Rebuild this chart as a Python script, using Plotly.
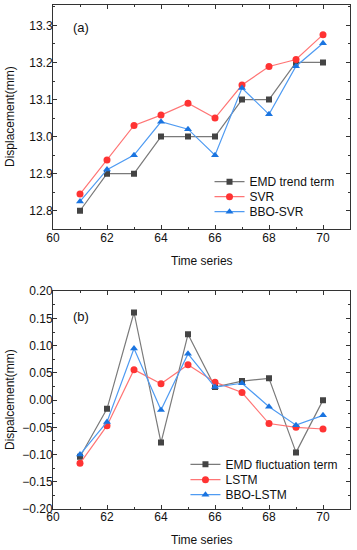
import plotly.graph_objects as go

x_vals = [61, 62, 63, 64, 65, 66, 67, 68, 69, 70]

emd_trend = [12.80, 12.90, 12.90, 13.00, 13.00, 13.00, 13.10, 13.10, 13.20, 13.20]
svr = [12.845, 12.937, 13.030, 13.058, 13.090, 13.050, 13.139, 13.189, 13.208, 13.275]
bbo_svr = [12.825, 12.911, 12.950, 13.040, 13.020, 12.950, 13.131, 13.060, 13.190, 13.252]

emd_fluct = [-0.104, -0.016, 0.161, -0.078, 0.121, 0.024, 0.035, 0.040, -0.096, 0.000]
lstm = [-0.116, -0.047, 0.056, 0.030, 0.065, 0.033, 0.014, -0.043, -0.050, -0.053]
bbo_lstm = [-0.100, -0.040, 0.095, -0.018, 0.085, 0.024, 0.031, -0.012, -0.046, -0.028]

x_ticks = [60, 62, 64, 66, 68, 70]
y_ticks_a = [12.8, 12.9, 13.0, 13.1, 13.2, 13.3]
y_ticks_b = [-0.20, -0.15, -0.10, -0.05, 0.00, 0.05, 0.10, 0.15, 0.20]

FONT = "Liberation Sans, Arial, sans-serif"
BLACK_M, BLACK_L = "#444444", "#7a7a7a"
RED_M, RED_L = "#ff3333", "#ff7575"
BLUE_M, BLUE_L = "#1a74e0", "#4f9bf2"

fig = go.Figure()

def add(y, name, mc, lc, sym, size, xa, ya, leg):
    fig.add_trace(go.Scatter(
        x=x_vals, y=y, name=name, mode="lines+markers",
        line=dict(color=lc, width=1.2),
        marker=dict(symbol=sym, size=size, color=mc),
        xaxis=xa, yaxis=ya, legend=leg))

add(emd_trend, "EMD trend term", BLACK_M, BLACK_L, "square", 6, "x", "y", "legend")
add(svr, "SVR", RED_M, RED_L, "circle", 7, "x", "y", "legend2")
add(bbo_svr, "BBO-SVR", BLUE_M, BLUE_L, "triangle-up", 7, "x", "y", "legend3")

add(emd_fluct, "EMD fluctuation term", BLACK_M, BLACK_L, "square", 6, "x2", "y2", "legend4")
add(lstm, "LSTM", RED_M, RED_L, "circle", 7, "x2", "y2", "legend5")
add(bbo_lstm, "BBO-LSTM", BLUE_M, BLUE_L, "triangle-up", 7, "x2", "y2", "legend6")

axis_common = dict(
    showline=True, linecolor="#333333", linewidth=1, mirror="ticks",
    ticks="inside", ticklen=4, tickcolor="#333333", tickwidth=1,
    showgrid=False, zeroline=False, automargin=False,
    tickfont=dict(family=FONT, size=12, color="#111111"),
)
xminor = dict(dtick=1, ticks="inside", ticklen=2, tickcolor="#333333", showgrid=False)

def leg(x, y):
    return dict(x=x, y=y, xanchor="left", yanchor="middle",
                bgcolor="rgba(0,0,0,0)", font=dict(size=12),
                itemwidth=30, borderwidth=0)

fig.update_layout(
    width=357, height=550,
    margin=dict(l=53, r=7, t=5, b=41),
    paper_bgcolor="white", plot_bgcolor="white",
    font=dict(family=FONT, size=12, color="#111111"),
    showlegend=True,
    xaxis=dict(domain=[0, 1], anchor="y", range=[60, 71], tickvals=x_ticks,
               minor=xminor, ticklabelstandoff=-3, **axis_common),
    yaxis=dict(domain=[0.555, 1.0], anchor="x", range=[12.75, 13.355],
               tickvals=y_ticks_a, tickformat=".1f", ticklabelstandoff=-3,
               minor=dict(dtick=0.05, tick0=12.75, ticks="inside", ticklen=2, tickcolor="#333333", showgrid=False),
               **axis_common),
    xaxis2=dict(domain=[0, 1], anchor="y2", range=[60, 71], tickvals=x_ticks,
                minor=xminor, ticklabelstandoff=-3, **axis_common),
    yaxis2=dict(domain=[0, 0.432], anchor="x2", range=[-0.2, 0.2],
                tickvals=y_ticks_b, tickformat=".2f", ticklabelstandoff=-3,
                minor=dict(dtick=0.025, tick0=0, ticks="inside", ticklen=2, tickcolor="#333333", showgrid=False),
                **axis_common),
    legend=leg(0.527, 0.6494),
    legend2=leg(0.527, 0.6196),
    legend3=leg(0.527, 0.5899),
    legend4=leg(0.446, 0.0887),
    legend5=leg(0.446, 0.0581),
    legend6=leg(0.446, 0.0284),
    annotations=[
        dict(text="(a)", x=0.06, y=0.955, xref="paper", yref="paper",
             xanchor="left", yanchor="middle", showarrow=False, font=dict(size=13)),
        dict(text="(b)", x=0.06, y=0.381, xref="paper", yref="paper",
             xanchor="left", yanchor="middle", showarrow=False, font=dict(size=13)),
        dict(text="Time series", x=0.5, y=261, xref="paper", yref="paper",
             xanchor="center", yanchor="middle", showarrow=False, font=dict(size=12)),
        dict(text="Time series", x=0.5, y=540, xref="paper", yref="paper",
             xanchor="center", yanchor="middle", showarrow=False, font=dict(size=12)),
        dict(text="Displacement(mm)", x=10, y=117, textangle=-90,
             xanchor="center", yanchor="middle",
             xref="paper", yref="paper", showarrow=False, font=dict(size=12)),
        dict(text="Dispalcement(mm)", x=10, y=400, textangle=-90,
             xanchor="center", yanchor="middle",
             xref="paper", yref="paper", showarrow=False, font=dict(size=12)),
    ],
)

# convert pixel positions of the axis-title annotations to paper coordinates
L, R, T, B, W, H = 53, 7, 5, 41, 357, 550
pw, ph = W - L - R, H - T - B
anns = list(fig.layout.annotations)
for a in anns[2:4]:
    a.y = (H - B - a.y) / ph
for a in anns[4:6]:
    a.x = (a.x - L) / pw
    a.y = (H - B - a.y) / ph
fig.layout.annotations = anns

fig.write_html("out.html", config={"displayModeBar": False},
               post_script="document.body.style.margin='0';")
